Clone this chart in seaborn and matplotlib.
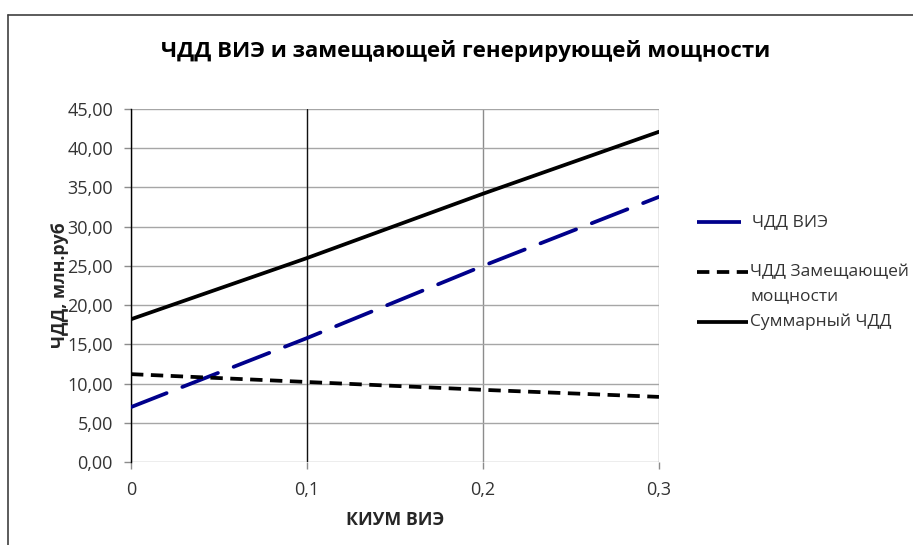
import matplotlib
matplotlib.use("Agg")
import matplotlib.pyplot as plt
from matplotlib.lines import Line2D
from matplotlib.ticker import FuncFormatter, MultipleLocator
import seaborn as sns
import pandas as pd

# КИУМ ВИЭ (capacity factor) and NPV of each option, mln rub
kium = [0.0, 0.1, 0.2, 0.3]
npv_res = [7.0, 15.8, 25.0, 33.8]
npv_replacement = [11.2, 10.2, 9.2, 8.3]
npv_total = [18.2, 26.0, 34.2, 42.1]

labels = ["ЧДД ВИЭ", "ЧДД Замещающей\nмощности", "Суммарный ЧДД"]
title = "ЧДД ВИЭ и замещающей генерирующей мощности"
x_label = "КИУМ ВИЭ"
y_label = "ЧДД, млн.руб"

df = pd.DataFrame({"kium": kium, "res": npv_res,
                   "repl": npv_replacement, "total": npv_total})

sns.set_theme(style="white")
plt.rcParams["font.family"] = ["Open Sans", "DejaVu Sans"]

W, H = 913, 545
fig = plt.figure(figsize=(W / 100, H / 100), dpi=100)
ax = fig.add_axes([131 / W, 1 - 462 / H, (659 - 131) / W, (462 - 109) / H])

navy = "#00008b"
lw = 2.7
sns.lineplot(data=df, x="kium", y="res", ax=ax, color=navy, lw=lw,
             linestyle=(0, (10.2, 4.5)), solid_capstyle="butt",
             dash_capstyle="round", zorder=3)
sns.lineplot(data=df, x="kium", y="repl", ax=ax, color="black", lw=lw,
             linestyle=(0, (3.3, 2.0)), dash_capstyle="butt", zorder=3)
sns.lineplot(data=df, x="kium", y="total", ax=ax, color="black", lw=lw,
             linestyle="-", zorder=3)

ax.set_xlim(0, 0.3)
ax.set_ylim(0, 45)
ax.xaxis.set_major_locator(MultipleLocator(0.1))
ax.yaxis.set_major_locator(MultipleLocator(5))
ax.xaxis.set_major_formatter(FuncFormatter(
    lambda v, p: "0" if abs(v) < 1e-9 else f"{v:.1f}".replace(".", ",")))
ax.yaxis.set_major_formatter(FuncFormatter(
    lambda v, p: f"{v:.2f}".replace(".", ",")))

for s in ["top", "right", "bottom"]:
    ax.spines[s].set_visible(False)
ax.spines["left"].set_color("black")
ax.spines["left"].set_linewidth(1.0)

ax.grid(True, axis="y", color="#a6a6a6", lw=1.0, zorder=1)
ax.grid(True, axis="x", color="#8c8c8c", lw=1.0, zorder=1)
# vertical gridline at 0,1 is darker
ax.axvline(0.1, color="#111111", lw=0.9, zorder=1.5)

ax.tick_params(axis="y", direction="out", length=5, width=1,
               color="#8c8c8c", labelsize=13, labelcolor="#333333", pad=8,
               left=True)
ax.tick_params(axis="x", direction="out", length=5, width=1,
               color="#8c8c8c", labelsize=13, labelcolor="#333333", pad=9,
               bottom=True)

ax.set_xlabel(x_label, fontsize=12.8, fontweight="bold", labelpad=8)
ax.set_ylabel(y_label, fontsize=12.8, fontweight="bold")
ax.yaxis.set_label_coords((69 - 131) / (659 - 131), 0.5)

fig.text(466 / W, 1 - 51 / H, title, ha="center", va="center",
         fontsize=16, fontweight="bold", color="black")

# legend drawn in figure pixels
def fx(px):
    return px / W

def fy(py):
    return 1 - py / H

fig.add_artist(Line2D([fx(697), fx(741)], [fy(222), fy(222)], color=navy,
                      lw=lw, solid_capstyle="butt"))
fig.add_artist(Line2D([fx(697), fx(748)], [fy(272), fy(272)], color="black",
                      lw=lw, linestyle=(0, (3.3, 2.0)), dash_capstyle="butt"))
fig.add_artist(Line2D([fx(697), fx(748)], [fy(322), fy(322)], color="black",
                      lw=lw, solid_capstyle="butt"))
leg_kw = dict(fontsize=12.5, color="#333333", ha="left", va="center")
fig.text(fx(752), fy(222), labels[0], **leg_kw)
fig.text(fx(750), fy(272), labels[1].split("\n")[0], **leg_kw)
fig.text(fx(750), fy(296), labels[1].split("\n")[1], **leg_kw)
fig.text(fx(750), fy(322), labels[2], **leg_kw)

# chart frame
fig.add_artist(Line2D([fx(8), fx(913)], [fy(15), fy(15)], color="#404040", lw=1.2))
fig.add_artist(Line2D([fx(8), fx(8)], [fy(15), fy(545)], color="#404040", lw=1.2))

fig.savefig("out.png", dpi=100, facecolor="white")
